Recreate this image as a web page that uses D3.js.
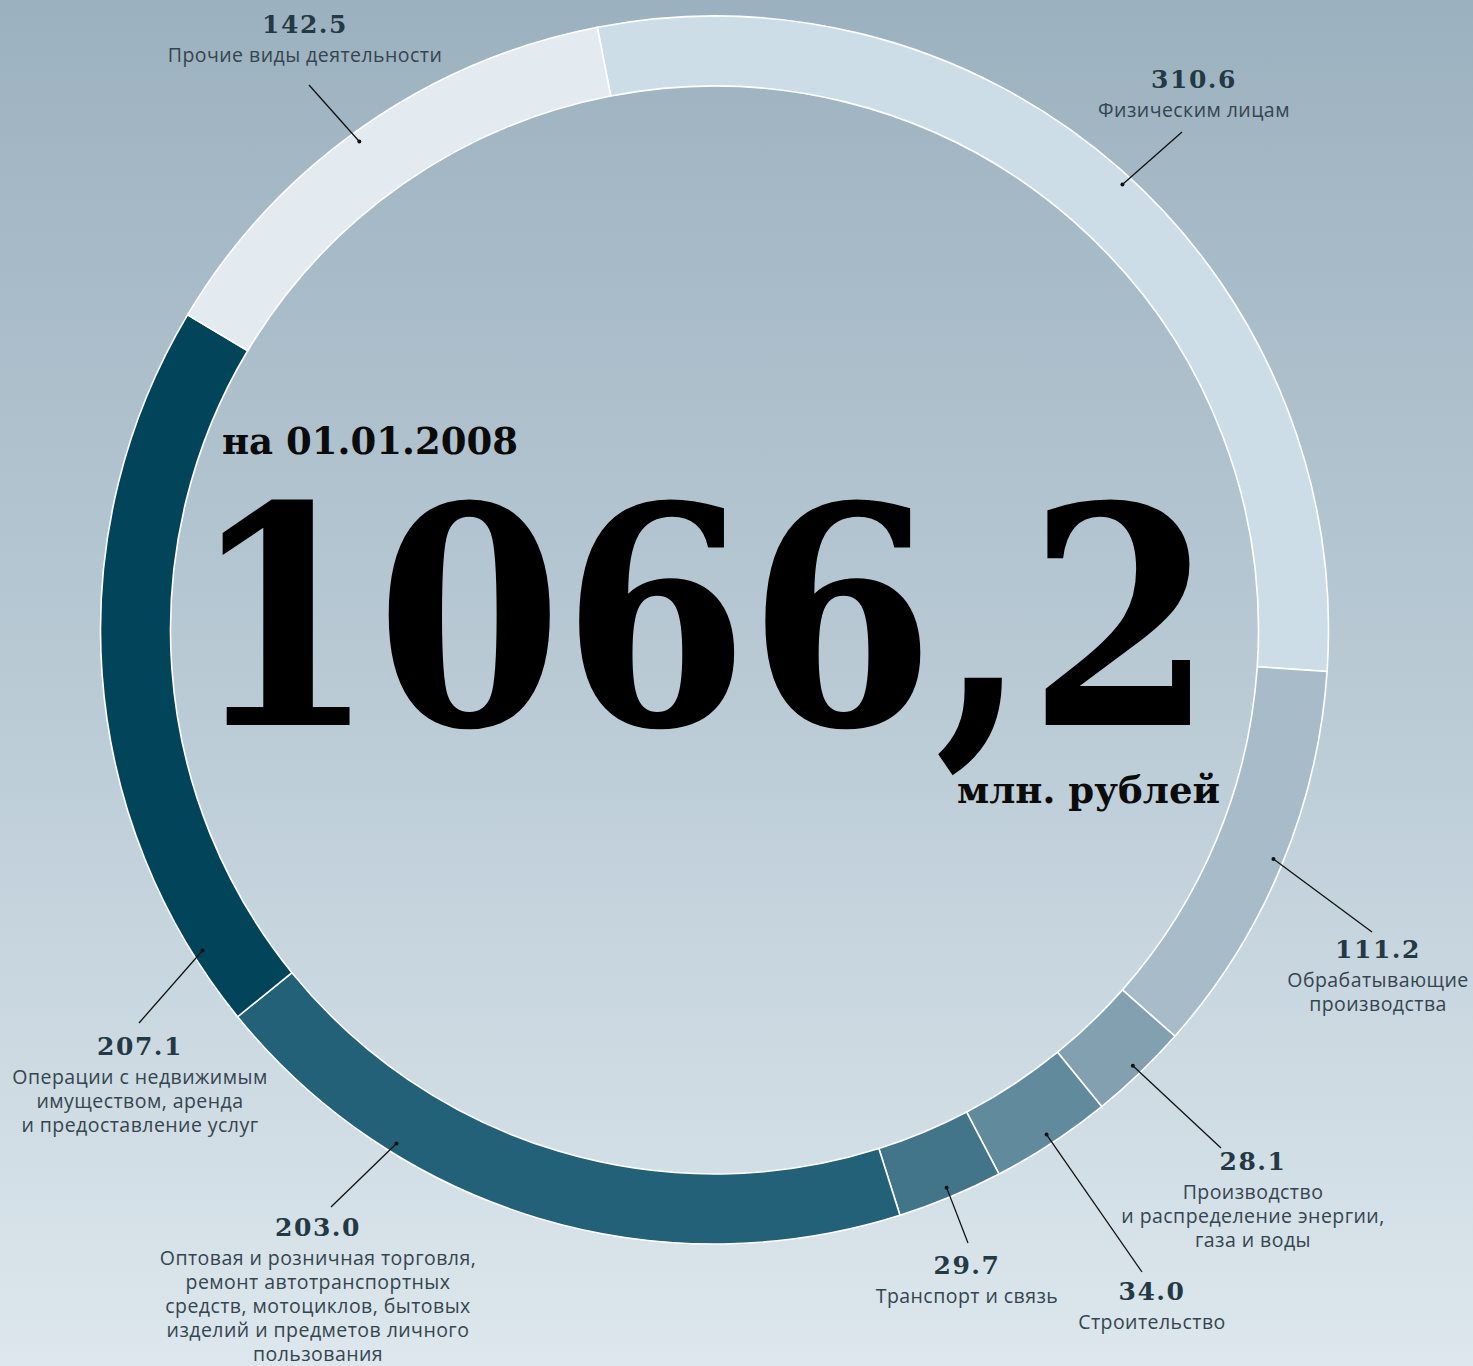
<!DOCTYPE html>
<html>
<head>
<meta charset="utf-8">
<script src="https://cdn.jsdelivr.net/npm/d3@7"></script>
<style>
html,body{margin:0;padding:0;}
body{width:1473px;height:1366px;overflow:hidden;}
</style>
</head>
<body>
<svg id="chart" width="1473" height="1366"></svg>
<script>
// ---- data ----
const categories = [
  "Физическим лицам",
  "Обрабатывающие производства",
  "Производство и распределение энергии, газа и воды",
  "Строительство",
  "Транспорт и связь",
  "Оптовая и розничная торговля, ремонт автотранспортных средств, мотоциклов, бытовых изделий и предметов личного пользования",
  "Операции с недвижимым имуществом, аренда и предоставление услуг",
  "Прочие виды деятельности"
];
const values = [310.6, 111.2, 28.1, 34.0, 29.7, 203.0, 207.1, 142.5];
const labelLines = [
  ["Физическим лицам"],
  ["Обрабатывающие", "производства"],
  ["Производство", "и распределение энергии,", "газа и воды"],
  ["Строительство"],
  ["Транспорт и связь"],
  ["Оптовая и розничная торговля,", "ремонт автотранспортных", "средств, мотоциклов, бытовых", "изделий и предметов личного", "пользования"],
  ["Операции с недвижимым", "имуществом, аренда", "и предоставление услуг"],
  ["Прочие виды деятельности"]
];
const totalText = "1066,2";
const dateText = "на 01.01.2008";
const unitText = "млн. рублей";

// ---- style / layout ----
const colors = ["#cddde7", "#a7bcc8", "#82a0b0", "#628a9d", "#43758a", "#236178", "#024459", "#e3ebf0"];
const W = 1473, H = 1366;
const cx = 714.5, cy = 630, rOuter = 614, rInner = 544, rDot = 604;
const startDeg = -11;
// dot position along each arc (fraction), leader end point, label centre x and first baseline y
const annot = [
  {t: 0.51, ex: 1182, ey: 132,  lx: 1194, ly: 88},
  {t: 0.49, ex: 1372, ey: 932,  lx: 1378, ly: 958},
  {t: 0.5,  ex: 1221, ey: 1148, lx: 1253, ly: 1170},
  {t: 0.5,  ex: 1142, ey: 1272, lx: 1152, ly: 1300},
  {t: 0.5,  ex: 968,  ey: 1243, lx: 967,  ly: 1274},
  {t: 0.72, ex: 331,  ey: 1207, lx: 318,  ly: 1236},
  {t: 0.10, ex: 139,  ey: 1023, lx: 140,  ly: 1055},
  {t: 0.48, ex: 309,  ey: 85,   lx: 305,  ly: 33}
];

const svg = d3.select("#chart");
const defs = svg.append("defs");
const grad = defs.append("linearGradient").attr("id", "bg").attr("x1", 0).attr("y1", 0).attr("x2", 0).attr("y2", 1);
grad.append("stop").attr("offset", "0%").attr("stop-color", "#9cb1bf");
grad.append("stop").attr("offset", "50%").attr("stop-color", "#b9cad5");
grad.append("stop").attr("offset", "100%").attr("stop-color", "#dde7ed");
svg.append("rect").attr("width", W).attr("height", H).attr("fill", "url(#bg)");

const rad = d => d * Math.PI / 180;
const pie = d3.pie().sort(null).value(d => d)
  .startAngle(rad(startDeg)).endAngle(rad(startDeg + 360));
const arcs = pie(values);
const arc = d3.arc().innerRadius(rInner).outerRadius(rOuter);

const g = svg.append("g").attr("transform", `translate(${cx},${cy})`);
g.selectAll("path.seg").data(arcs).join("path")
  .attr("class", "seg")
  .attr("d", arc)
  .attr("fill", (d, i) => colors[i])
  .attr("stroke", "#ffffff")
  .attr("stroke-width", 1.6);

// leaders
arcs.forEach((d, i) => {
  const a = annot[i];
  const ang = d.startAngle + a.t * (d.endAngle - d.startAngle);
  const px = cx + rDot * Math.sin(ang), py = cy - rDot * Math.cos(ang);
  svg.append("line").attr("x1", px).attr("y1", py).attr("x2", a.ex).attr("y2", a.ey)
    .attr("stroke", "#111").attr("stroke-width", 1.3);
  svg.append("circle").attr("cx", px).attr("cy", py).attr("r", 2).attr("fill", "#111");
  svg.append("text").attr("x", a.lx).attr("y", a.ly)
    .attr("text-anchor", "middle")
    .attr("font-family", "'DejaVu Serif', serif").attr("font-weight", "bold")
    .attr("font-size", 25).attr("letter-spacing", 1.5).attr("fill", "#233944")
    .text(values[i].toFixed(1));
  const t = svg.append("text").attr("text-anchor", "middle")
    .attr("font-family", "'Open Sans', 'Noto Sans', sans-serif")
    .attr("font-size", 19.5).attr("letter-spacing", 0.45).attr("fill", "#34454f");
  labelLines[i].forEach((ln, k) => {
    t.append("tspan").attr("x", a.lx).attr("y", a.ly + 29 + k * 24).text(ln);
  });
});

// centre texts
svg.append("text").attr("x", 222).attr("y", 454)
  .attr("font-family", "'DejaVu Serif', serif").attr("font-weight", "bold")
  .attr("font-size", 37).attr("fill", "#0b0b0b").attr("textLength", 296).attr("lengthAdjust", "spacingAndGlyphs")
  .text(dateText);
svg.append("text").attr("x", 190).attr("y", 725)
  .attr("font-family", "'DejaVu Serif', serif").attr("font-weight", "bold")
  .attr("font-size", 304).attr("fill", "#000").attr("textLength", 1024).attr("lengthAdjust", "spacingAndGlyphs")
  .text(totalText);
svg.append("text").attr("x", 957).attr("y", 803)
  .attr("font-family", "'DejaVu Serif', serif").attr("font-weight", "bold")
  .attr("font-size", 37).attr("fill", "#0b0b0b").attr("textLength", 263).attr("lengthAdjust", "spacingAndGlyphs")
  .text(unitText);
</script>
</body>
</html>
